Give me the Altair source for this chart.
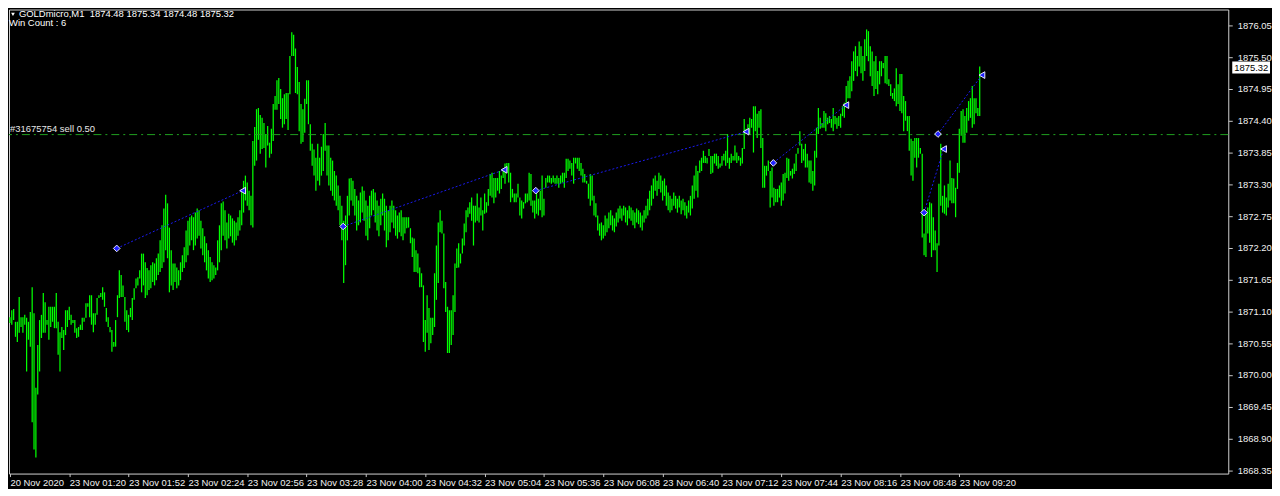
import altair as alt
import pandas as pd

# ---------------- data ----------------
highs = [
 1871.00, 1871.12, 1871.14, 1870.92, 1870.92, 1871.35, 1871.00, 1871.00, 1871.04, 1870.99,
 1870.92, 1871.09, 1871.52, 1871.07, 1869.78, 1870.52, 1870.95, 1871.04, 1871.42, 1871.26,
 1870.95, 1871.18, 1871.18, 1871.18, 1871.18, 1871.42, 1870.92, 1870.74, 1870.83, 1870.78,
 1871.12, 1871.12, 1871.18, 1871.04, 1870.95, 1870.95, 1870.81, 1870.83, 1870.87, 1870.99,
 1870.99, 1871.24, 1871.24, 1871.38, 1871.38, 1871.07, 1871.07, 1871.33, 1871.38, 1871.42,
 1871.52, 1871.43, 1871.16, 1871.00, 1870.83, 1870.78, 1870.57, 1870.95, 1871.38, 1871.81,
 1871.73, 1871.55, 1871.35, 1871.12, 1871.04, 1871.16, 1871.33, 1871.50, 1871.67, 1871.69,
 1871.81, 1872.10, 1872.10, 1871.95, 1871.85, 1871.81, 1871.90, 1871.95, 1871.93, 1872.02,
 1872.10, 1872.33, 1872.59, 1872.88, 1873.12, 1872.97, 1872.55, 1872.16, 1871.93, 1871.93,
 1871.86, 1871.81, 1871.95, 1872.07, 1872.21, 1872.50, 1872.67, 1872.73, 1872.76, 1872.73,
 1872.81, 1872.88, 1872.85, 1872.67, 1872.54, 1872.40, 1872.28, 1872.16, 1872.04, 1871.95,
 1871.90, 1871.86, 1872.33, 1872.59, 1872.97, 1873.00, 1872.85, 1872.64, 1872.79, 1872.76,
 1872.71, 1872.67, 1872.64, 1872.73, 1872.85, 1873.19, 1873.36, 1873.45, 1873.33, 1873.19,
 1873.10, 1874.05, 1874.29, 1874.60, 1874.62, 1874.50, 1874.45, 1874.36, 1874.17, 1874.31,
 1874.02, 1874.26, 1874.69, 1874.83, 1875.10, 1875.14, 1874.95, 1874.79, 1874.86, 1874.88,
 1874.88, 1875.52, 1875.93, 1875.89, 1875.65, 1875.33, 1875.07, 1874.69, 1874.60, 1874.78,
 1875.10, 1875.10, 1874.34, 1874.00, 1873.90, 1873.76, 1874.00, 1873.76, 1873.95, 1874.17,
 1874.36, 1873.97, 1873.97, 1873.76, 1873.71, 1873.53, 1873.45, 1873.28, 1873.10, 1872.93,
 1872.67, 1872.76, 1873.10, 1873.40, 1873.41, 1873.36, 1873.22, 1873.10, 1873.02, 1873.16,
 1873.26, 1873.19, 1873.02, 1872.93, 1873.10, 1873.19, 1873.22, 1873.16, 1873.02, 1872.93,
 1873.05, 1873.14, 1873.05, 1872.93, 1872.85, 1872.93, 1873.02, 1872.93, 1872.85, 1872.76,
 1872.81, 1872.85, 1872.73, 1872.73, 1872.73, 1872.73, 1872.54, 1872.38, 1872.36, 1872.16,
 1872.10, 1871.86, 1871.76, 1871.55, 1870.95, 1871.38, 1871.16, 1870.99, 1870.99, 1871.76,
 1872.24, 1872.64, 1872.85, 1872.67, 1872.45, 1871.61, 1871.18, 1871.12, 1871.12, 1871.38,
 1871.93, 1872.19, 1872.28, 1872.10, 1872.36, 1872.62, 1872.85, 1872.90, 1872.99, 1873.07,
 1872.93, 1872.93, 1873.14, 1872.90, 1873.07, 1872.85, 1873.14, 1872.99, 1873.22, 1873.48,
 1873.50, 1873.41, 1873.41, 1873.41, 1873.53, 1873.45, 1873.57, 1873.66, 1873.67, 1873.67,
 1873.50, 1873.22, 1873.14, 1873.14, 1873.31, 1873.07, 1873.02, 1872.99, 1873.14, 1873.14,
 1873.50, 1873.48, 1873.02, 1873.02, 1873.19, 1873.05, 1873.19, 1873.45, 1873.05, 1873.41,
 1873.45, 1873.45, 1873.41, 1873.45, 1873.41, 1873.45, 1873.41, 1873.45, 1873.50, 1873.50,
 1873.74, 1873.74, 1873.71, 1873.67, 1873.76, 1873.76, 1873.76, 1873.76, 1873.67, 1873.57,
 1873.48, 1873.36, 1873.31, 1873.48, 1873.45, 1873.10, 1872.97, 1872.76, 1872.62, 1872.64,
 1872.59, 1872.76, 1872.71, 1872.81, 1872.85, 1872.76, 1872.71, 1872.81, 1872.88, 1872.93,
 1872.88, 1872.93, 1872.90, 1872.85, 1872.93, 1872.90, 1872.85, 1872.81, 1872.88, 1872.85,
 1872.81, 1872.76, 1872.85, 1872.93, 1873.05, 1873.19, 1873.28, 1873.40, 1873.45, 1873.36,
 1873.50, 1873.45, 1873.36, 1873.40, 1873.28, 1873.16, 1873.10, 1873.05, 1873.16, 1873.10,
 1873.05, 1873.10, 1873.02, 1873.05, 1872.99, 1872.93, 1873.02, 1873.10, 1873.28, 1873.45,
 1873.62, 1873.53, 1873.71, 1873.76, 1873.88, 1873.79, 1873.76, 1873.91, 1873.79, 1873.79,
 1873.83, 1873.83, 1873.79, 1873.66, 1873.79, 1873.83, 1873.88, 1874.17, 1873.76, 1873.83,
 1873.79, 1873.97, 1873.85, 1873.79, 1873.76, 1873.93, 1874.43, 1874.26, 1874.34, 1874.45,
 1874.43, 1874.65, 1874.65, 1874.52, 1874.57, 1874.60, 1874.10, 1873.62, 1873.62, 1873.71,
 1873.53, 1873.59, 1873.24, 1873.22, 1873.22, 1873.28, 1873.33, 1873.48, 1873.50, 1873.76,
 1873.74, 1873.53, 1873.57, 1873.66, 1873.83, 1873.93, 1874.22, 1874.00, 1873.91, 1874.00,
 1873.83, 1873.71, 1873.71, 1873.53, 1873.88, 1874.28, 1874.62, 1874.45, 1874.36, 1874.57,
 1874.53, 1874.45, 1874.48, 1874.43, 1874.62, 1874.48, 1874.45, 1874.48, 1874.52, 1874.65,
 1874.71, 1875.00, 1875.09, 1875.17, 1875.43, 1875.60, 1875.69, 1875.52, 1875.77, 1875.69,
 1875.52, 1875.81, 1875.98, 1875.95, 1875.69, 1875.60, 1875.43, 1875.52, 1875.26, 1875.43,
 1875.43, 1875.40, 1875.52, 1875.52, 1875.12, 1875.03, 1874.88, 1874.96, 1875.31, 1875.03,
 1875.21, 1875.21, 1874.83, 1874.74, 1874.48, 1874.48, 1874.09, 1874.05, 1874.10, 1874.10,
 1874.10, 1873.93, 1873.83, 1872.45, 1872.79, 1872.90, 1872.99, 1872.97, 1872.73, 1872.50,
 1872.28, 1873.31, 1874.00, 1873.10, 1873.28, 1873.07, 1873.31, 1873.71, 1873.41, 1873.40,
 1873.24, 1873.67, 1874.26, 1874.57, 1874.60, 1874.48, 1874.62, 1874.74, 1874.79, 1875.00,
 1874.79, 1874.79, 1874.62, 1875.34,
]

lows = [
 1870.90, 1870.87, 1870.95, 1870.66, 1870.57, 1870.73, 1870.83, 1870.73, 1870.87, 1870.06,
 1870.61, 1870.49, 1869.18, 1868.71, 1868.57, 1869.66, 1870.06, 1870.64, 1870.73, 1870.73,
 1870.87, 1870.61, 1870.83, 1870.92, 1870.81, 1870.81, 1870.35, 1870.06, 1870.64, 1870.43,
 1870.69, 1870.83, 1870.95, 1870.87, 1870.90, 1870.73, 1870.64, 1870.66, 1870.78, 1870.78,
 1870.92, 1870.99, 1871.18, 1871.00, 1870.87, 1870.74, 1870.87, 1871.04, 1871.33, 1871.35,
 1871.30, 1871.18, 1870.92, 1870.83, 1870.74, 1870.40, 1870.49, 1870.49, 1871.00, 1871.33,
 1871.35, 1871.35, 1870.92, 1870.78, 1870.74, 1871.00, 1870.95, 1871.30, 1871.50, 1871.55,
 1871.67, 1871.43, 1871.55, 1871.33, 1871.38, 1871.47, 1871.50, 1871.61, 1871.55, 1871.64,
 1871.73, 1871.78, 1871.85, 1871.95, 1872.16, 1872.02, 1871.43, 1871.55, 1871.47, 1871.61,
 1871.50, 1871.55, 1871.64, 1871.78, 1871.85, 1871.95, 1872.07, 1872.24, 1872.33, 1872.16,
 1872.24, 1872.36, 1872.41, 1872.19, 1872.07, 1871.95, 1871.81, 1871.67, 1871.61, 1871.64,
 1871.67, 1871.73, 1871.81, 1871.95, 1872.16, 1872.41, 1872.33, 1872.19, 1872.36, 1872.40,
 1872.29, 1872.24, 1872.33, 1872.41, 1872.50, 1872.59, 1872.81, 1873.02, 1872.93, 1872.85,
 1872.59, 1872.55, 1873.62, 1873.71, 1874.07, 1873.83, 1873.91, 1873.93, 1873.59, 1873.97,
 1873.76, 1873.83, 1874.05, 1874.59, 1874.59, 1874.69, 1874.43, 1874.28, 1874.34, 1874.43,
 1874.24, 1874.86, 1875.52, 1875.52, 1874.88, 1874.86, 1874.22, 1874.00, 1874.03, 1874.19,
 1874.69, 1874.34, 1873.88, 1873.62, 1873.45, 1873.19, 1873.36, 1873.28, 1873.45, 1873.53,
 1873.88, 1873.45, 1873.28, 1873.19, 1873.10, 1873.02, 1872.93, 1872.85, 1872.59, 1872.33,
 1871.59, 1871.90, 1872.33, 1872.76, 1873.02, 1872.93, 1872.76, 1872.50, 1872.59, 1872.64,
 1872.81, 1872.67, 1872.41, 1872.33, 1872.54, 1872.76, 1872.85, 1872.64, 1872.50, 1872.40,
 1872.59, 1872.76, 1872.50, 1872.21, 1872.33, 1872.47, 1872.64, 1872.54, 1872.41, 1872.36,
 1872.47, 1872.40, 1872.33, 1872.45, 1872.54, 1872.55, 1872.28, 1872.04, 1871.78, 1871.78,
 1871.76, 1871.52, 1871.52, 1870.57, 1870.40, 1870.73, 1870.43, 1870.55, 1870.69, 1870.83,
 1871.30, 1871.59, 1872.47, 1872.45, 1871.50, 1871.09, 1870.38, 1870.38, 1870.52, 1870.69,
 1871.09, 1871.85, 1871.86, 1871.93, 1872.10, 1872.24, 1872.47, 1872.73, 1872.79, 1872.67,
 1872.24, 1872.64, 1872.67, 1872.64, 1872.76, 1872.50, 1872.79, 1872.81, 1872.93, 1873.10,
 1873.07, 1872.97, 1873.07, 1873.19, 1873.14, 1873.22, 1873.41, 1873.31, 1873.50, 1873.33,
 1872.99, 1873.07, 1872.99, 1872.99, 1873.07, 1872.76, 1872.71, 1872.88, 1872.97, 1872.99,
 1873.02, 1872.93, 1872.81, 1872.71, 1872.79, 1872.76, 1872.85, 1872.73, 1872.76, 1873.24,
 1873.33, 1873.33, 1873.31, 1873.33, 1873.31, 1873.31, 1873.24, 1873.31, 1873.33, 1873.24,
 1873.41, 1873.53, 1873.57, 1873.45, 1873.31, 1873.66, 1873.57, 1873.53, 1873.45, 1873.33,
 1873.33, 1873.31, 1873.05, 1872.93, 1873.02, 1872.76, 1872.73, 1872.50, 1872.41, 1872.33,
 1872.36, 1872.41, 1872.47, 1872.54, 1872.59, 1872.50, 1872.47, 1872.57, 1872.64, 1872.71,
 1872.67, 1872.76, 1872.64, 1872.59, 1872.71, 1872.67, 1872.59, 1872.54, 1872.64, 1872.61,
 1872.55, 1872.50, 1872.64, 1872.71, 1872.76, 1872.85, 1872.93, 1873.05, 1873.19, 1873.10,
 1873.22, 1873.16, 1873.02, 1873.10, 1872.93, 1872.85, 1872.81, 1872.85, 1872.93, 1872.88,
 1872.81, 1872.90, 1872.78, 1872.85, 1872.76, 1872.71, 1872.81, 1872.76, 1872.88, 1873.05,
 1873.19, 1873.07, 1873.50, 1873.53, 1873.67, 1873.67, 1873.66, 1873.79, 1873.48, 1873.50,
 1873.66, 1873.62, 1873.57, 1873.59, 1873.62, 1873.71, 1873.62, 1873.67, 1873.57, 1873.67,
 1873.71, 1873.71, 1873.67, 1873.71, 1873.62, 1873.66, 1873.91, 1874.17, 1874.26, 1874.17,
 1874.28, 1873.85, 1874.22, 1874.10, 1874.28, 1873.93, 1873.24, 1873.24, 1873.45, 1873.53,
 1872.90, 1873.07, 1872.93, 1872.99, 1872.99, 1873.07, 1872.93, 1873.02, 1873.14, 1873.41,
 1873.36, 1873.45, 1873.40, 1873.48, 1873.53, 1873.83, 1873.97, 1873.67, 1873.71, 1873.59,
 1873.59, 1873.33, 1873.31, 1873.19, 1873.28, 1873.76, 1874.17, 1874.26, 1874.28, 1874.28,
 1874.22, 1874.34, 1874.36, 1874.28, 1874.22, 1874.34, 1874.26, 1874.31, 1874.28, 1874.48,
 1874.45, 1874.71, 1874.79, 1874.79, 1874.91, 1875.09, 1875.26, 1875.17, 1875.34, 1875.22,
 1875.09, 1875.26, 1875.52, 1875.43, 1875.17, 1875.00, 1874.83, 1874.95, 1874.86, 1875.03,
 1875.17, 1875.31, 1875.05, 1875.03, 1875.00, 1874.83, 1874.78, 1874.74, 1874.65, 1874.69,
 1874.57, 1874.53, 1874.22, 1874.40, 1874.22, 1873.88, 1873.45, 1873.36, 1873.76, 1873.59,
 1873.76, 1873.83, 1872.38, 1872.07, 1872.04, 1872.45, 1872.29, 1872.04, 1872.16, 1872.16,
 1871.78, 1872.24, 1872.93, 1872.81, 1872.79, 1872.76, 1872.90, 1873.02, 1872.97, 1872.97,
 1872.73, 1873.22, 1873.50, 1874.14, 1874.02, 1874.02, 1874.19, 1874.40, 1874.45, 1874.28,
 1874.34, 1874.53, 1874.48, 1874.48,
]

time_labels = ["20 Nov 2020", "23 Nov 01:20", "23 Nov 01:52", "23 Nov 02:24", "23 Nov 02:56",
               "23 Nov 03:28", "23 Nov 04:00", "23 Nov 04:32", "23 Nov 05:04", "23 Nov 05:36",
               "23 Nov 06:08", "23 Nov 06:40", "23 Nov 07:12", "23 Nov 07:44", "23 Nov 08:16",
               "23 Nov 08:48", "23 Nov 09:20"]
bars_per_label = 32

price_ticks = [1876.05, 1875.50, 1874.95, 1874.40, 1873.85, 1873.30, 1872.75, 1872.20,
               1871.65, 1871.10, 1870.55, 1870.00, 1869.45, 1868.90, 1868.35]

open_bar = [57.6, 179.7, 283.6, 411.7, 493.0, 500.5]
open_price = [1872.19, 1872.57, 1873.19, 1873.67, 1872.81, 1874.17]
close_bar = [125.5, 266.5, 397.0, 450.8, 503.5, 524.2]
close_price = [1873.19, 1873.55, 1874.21, 1874.67, 1873.91, 1875.19]

order_price = 1874.16
order_label = "#31675754 sell 0.50"
last_price = 1875.32
header = "GOLDmicro,M1  1874.48 1875.34 1874.48 1875.32"
win_text = "Win Count : 6"

# ---------------- chart ----------------
W, H = 1227, 467
FONT = "Liberation Sans"
n = min(len(highs), len(lows))
bars = pd.DataFrame({"i": list(range(n)), "high": highs[:n], "low": lows[:n]})

k = len(open_bar)
trades = pd.DataFrame({
    "trade": list(range(k)) * 2,
    "i": open_bar + close_bar,
    "price": open_price + close_price,
    "kind": ["open"] * k + ["close"] * k,
})
order_df = pd.DataFrame({"price": [order_price], "label": [order_label]})
last_df = pd.DataFrame({"price": [last_price], "label": [f"{last_price:.2f}"]})
head_df = pd.DataFrame({"t": [header.replace("  ", "\u00a0\u00a0")], "w": [win_text]})

tick_idx = [j * bars_per_label for j in range(len(time_labels))]
label_expr = "[" + ",".join("'" + s + "'" for s in time_labels) + "][round(datum.value/%d)]" % bars_per_label

xscale = alt.Scale(domain=[-0.5, -0.5 + W / 1.866], nice=False, zero=False)
yscale = alt.Scale(domain=[1868.293, 1876.325], nice=False, zero=False)

xaxis = alt.Axis(values=tick_idx, labelExpr=label_expr, title=None, grid=False, domain=False,
                 tickSize=3, tickColor="#C8C8C8", labelColor="#F0F0F0", labelFont=FONT,
                 labelFontSize=9.5, labelAlign="left", labelBaseline="top", labelPadding=1,
                 labelOverlap=False, labelFlush=False, labelBound=False)
yaxis = alt.Axis(orient="right", values=price_ticks, format=".2f", title=None, grid=False,
                 domain=False, tickSize=4, tickColor="#C8C8C8", labelColor="#F0F0F0",
                 labelFont=FONT, labelFontSize=9.5, labelPadding=5, labelBaseline="middle",
                 labelOverlap=False, labelFlush=False, labelBound=False)


def X(f):
    return alt.X(f, type="quantitative", scale=xscale, axis=xaxis)


def Y(f):
    return alt.Y(f, type="quantitative", scale=yscale, axis=yaxis)


bar_layer = alt.Chart(bars).mark_rule(color="#00FF00", strokeWidth=1.25).encode(
    x=X("i"), y=Y("low"), y2=alt.Y2("high"))

order_line = alt.Chart(order_df).mark_rule(color="#1FA01F", strokeWidth=1,
                                           strokeDash=[8, 4, 2, 4]).encode(y=Y("price"))
order_text = alt.Chart(order_df).mark_text(align="left", baseline="bottom", dy=-1,
                                           font=FONT, fontSize=9.5, color="#E6E6E6").encode(
    y=Y("price"), x=alt.value(1), text="label:N")

trade_lines = alt.Chart(trades).mark_line(color="#1A1AF0", strokeWidth=1,
                                          strokeDash=[2, 2]).encode(
    x=X("i"), y=Y("price"), detail="trade:N", order="i:Q")
open_pts = alt.Chart(trades).transform_filter(alt.datum.kind == "open").mark_point(
    shape="diamond", filled=True, size=45, fill="#2323FF", stroke="#E8E8F8",
    strokeWidth=1, opacity=1).encode(x=X("i"), y=Y("price"))
close_pts = alt.Chart(trades).transform_filter(alt.datum.kind == "close").mark_point(
    shape="triangle-left", filled=True, size=45, fill="#2323FF", stroke="#E8E8F8",
    strokeWidth=1, opacity=1).encode(x=X("i"), y=Y("price"))

head_tri = alt.Chart(head_df).mark_point(shape="triangle-down", filled=True, size=14,
                                         color="#FFFFFF", opacity=1).encode(
    x=alt.value(4), y=alt.value(5))
head_text = alt.Chart(head_df).mark_text(align="left", baseline="middle", font=FONT,
                                         fontSize=9.5, color="#FFFFFF").encode(
    x=alt.value(10), y=alt.value(5), text="t:N")
win_label = alt.Chart(head_df).mark_text(align="left", baseline="middle", font=FONT,
                                         fontSize=9.5, color="#FFFFFF").encode(
    x=alt.value(0), y=alt.value(14), text="w:N")

last_box = alt.Chart(last_df).mark_rect(color="#FFFFFF", yOffset=-6, y2Offset=6).encode(
    x=alt.value(W + 4), x2=alt.value(W + 42), y=Y("price"), y2=alt.Y2("price"))
last_text = alt.Chart(last_df).mark_text(align="left", baseline="middle", font=FONT,
                                         fontSize=9.5, color="#000000").encode(
    x=alt.value(W + 6), y=Y("price"), text="label:N")

chart = alt.layer(
    bar_layer, order_line, order_text, trade_lines, open_pts, close_pts,
    head_tri, head_text, win_label, last_box, last_text,
).properties(
    width=W, height=H, padding={"left": 0, "top": 0, "right": 0, "bottom": 0},
    background="#000000",
).configure_view(stroke="#D2D2D2", strokeWidth=1, fill="#000000")

chart.save("out.html", embed_options={"renderer": "svg", "actions": False})
